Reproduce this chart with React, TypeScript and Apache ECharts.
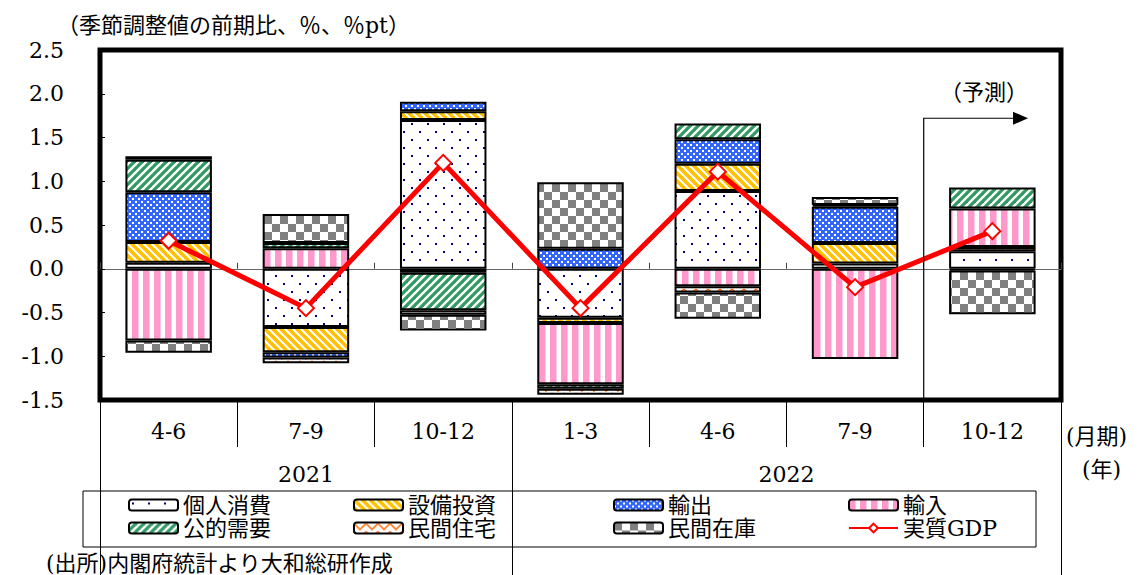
import React, { useEffect, useRef } from 'react';
import * as echarts from 'echarts';

const categories = ['4-6', '7-9', '10-12', '1-3', '4-6', '7-9', '10-12'];
const years = ['2021', '2022'];
const yearLabelPos = [1.5, 5];
const yearBounds = [0, 3, 7];

const consumption = [0.07, -0.665, 1.7, -0.56, 0.89, 0.06, 0.2];
const capex = [0.235, -0.29, 0.1, -0.06, 0.31, 0.235, 0.05];
const exportsV = [0.57, -0.06, 0.11, 0.23, 0.28, 0.415, -0.02];
const importsV = [-0.82, 0.235, -0.045, -0.7, -0.2, -1.03, 0.44];
const publicDemand = [0.37, 0.06, -0.43, -0.05, 0.18, 0.02, 0.24];
const housing = [0.04, -0.065, -0.05, -0.07, -0.07, null, null];
const inventory = [-0.14, 0.33, -0.18, 0.76, -0.3, 0.09, -0.5];
const realGDP = [0.32, -0.45, 1.21, -0.45, 1.11, -0.21, 0.43];

const FONT = "'DejaVu Serif', 'Noto Sans CJK JP', serif";

function makePattern(w: number, h: number, draw: (ctx: CanvasRenderingContext2D) => void) {
  const c = document.createElement('canvas');
  c.width = w;
  c.height = h;
  const ctx = c.getContext('2d')!;
  ctx.fillStyle = '#ffffff';
  ctx.fillRect(0, 0, w, h);
  draw(ctx);
  return { image: c, repeat: 'repeat', imageWidth: w, imageHeight: h } as any;
}

export default function App() {
  const ref = useRef<HTMLDivElement>(null);
  useEffect(() => {
    const chart = echarts.init(ref.current!, null, { renderer: 'svg' });

    const pDots = makePattern(16, 16, (ctx) => {
      ctx.fillStyle = '#000080';
      ctx.fillRect(3, 3, 2, 2);
      ctx.fillRect(11, 11, 2, 2);
    });
    const pYellow = makePattern(8, 8, (ctx) => {
      ctx.strokeStyle = '#FFC000';
      ctx.lineWidth = 3.6;
      for (const k of [-8, 0, 8]) {
        ctx.beginPath();
        ctx.moveTo(k - 1, -1);
        ctx.lineTo(k + 9, 9);
        ctx.stroke();
      }
    });
    const pGreen = makePattern(8, 8, (ctx) => {
      ctx.strokeStyle = '#2F9A62';
      ctx.lineWidth = 3.2;
      for (const k of [-8, 0, 8]) {
        ctx.beginPath();
        ctx.moveTo(k - 1, 9);
        ctx.lineTo(k + 9, -1);
        ctx.stroke();
      }
    });
    const pBlue = makePattern(6, 6, (ctx) => {
      ctx.fillStyle = '#3366FF';
      ctx.fillRect(0, 0, 6, 6);
      ctx.fillStyle = '#ffffff';
      ctx.fillRect(0, 0, 2, 2);
      ctx.fillRect(3, 3, 2, 2);
    });
    const pPink = makePattern(11, 4, (ctx) => {
      ctx.fillStyle = '#FF99CC';
      ctx.fillRect(0, 0, 6.5, 4);
    });
    const pGray = makePattern(16, 16, (ctx) => {
      ctx.fillStyle = '#808080';
      ctx.fillRect(0, 0, 8, 8);
      ctx.fillRect(8, 8, 8, 8);
    });
    const pOrange = makePattern(12, 8, (ctx) => {
      ctx.strokeStyle = '#FF6600';
      ctx.lineWidth = 1.5;
      ctx.beginPath();
      ctx.moveTo(0, 1);
      ctx.lineTo(6, 7);
      ctx.lineTo(12, 1);
      ctx.stroke();
    });

    const barSeries = (name: string, data: (number | null)[], pattern: any) => ({
      name,
      type: 'bar',
      stack: 'total',
      barWidth: '63%',
      data,
      xAxisIndex: 0,
      itemStyle: { color: pattern, borderColor: '#000', borderWidth: 2 },
    });

    const legendBase = {
      orient: 'vertical',
      top: 494,
      padding: 0,
      itemWidth: 49,
      itemHeight: 11,
      itemGap: 1,
      selectedMode: false,
      textStyle: { fontSize: 22, fontFamily: FONT, color: '#000', lineHeight: 22 },
    };

    chart.setOption({
      animation: false,
      backgroundColor: '#fff',
      textStyle: { fontFamily: FONT },
      grid: {
        left: 100,
        right: 81,
        top: 50,
        bottom: 175,
        show: true,
        borderColor: '#000',
        borderWidth: 5,
        backgroundColor: 'transparent',
      },
      legend: [
        { ...legendBase, left: 128, data: ['個人消費', '公的需要'] },
        { ...legendBase, left: 353, data: ['設備投資', '民間住宅'] },
        { ...legendBase, left: 613, data: ['輸出', '民間在庫'] },
        { ...legendBase, left: 848, data: ['輸入', '実質GDP'] },
      ],
      xAxis: [
        {
          type: 'category',
          data: categories,
          position: 'bottom',
          axisLine: { show: false, onZero: false },
          axisTick: { show: true, length: 47, interval: 0, lineStyle: { color: '#000', width: 1 } },
          axisLabel: { fontSize: 22, color: '#000', margin: 20, interval: 0, fontFamily: FONT },
          splitLine: { show: false },
        },
        {
          type: 'category',
          data: categories,
          position: 'bottom',
          axisLine: { show: true, onZero: true, lineStyle: { color: '#666', width: 1 } },
          axisTick: { show: true, inside: true, length: 6, interval: 0, lineStyle: { color: '#444', width: 1 } },
          axisLabel: { show: false },
          splitLine: { show: false },
        },
        {
          type: 'value',
          min: 0,
          max: 7,
          position: 'bottom',
          offset: 47,
          axisLine: { show: false, onZero: false },
          axisTick: { show: true, length: 130, customValues: yearBounds, lineStyle: { color: '#000', width: 1 } },
          axisLabel: {
            show: true,
            customValues: yearLabelPos,
            fontSize: 22,
            color: '#000',
            margin: 16,
            fontFamily: FONT,
            formatter: (v: number) => years[yearLabelPos.indexOf(v)] ?? '',
          },
          splitLine: { show: false },
        },
      ],
      yAxis: {
        type: 'value',
        min: -1.5,
        max: 2.5,
        interval: 0.5,
        axisLine: { show: false, onZero: false },
        axisTick: { show: true, inside: true, length: 5, lineStyle: { color: '#000' } },
        axisLabel: {
          fontSize: 22,
          color: '#000',
          margin: 36,
          fontFamily: FONT,
          formatter: (v: number) => v.toFixed(1),
        },
        splitLine: { show: false },
      },
      series: [
        barSeries('個人消費', consumption, pDots),
        barSeries('設備投資', capex, pYellow),
        barSeries('輸出', exportsV, pBlue),
        barSeries('輸入', importsV, pPink),
        barSeries('公的需要', publicDemand, pGreen),
        barSeries('民間住宅', housing, pOrange),
        barSeries('民間在庫', inventory, pGray),
        {
          name: '実質GDP',
          type: 'line',
          xAxisIndex: 0,
          data: realGDP,
          symbol: 'diamond',
          symbolSize: 16,
          z: 10,
          lineStyle: { color: '#FF0000', width: 5 },
          itemStyle: { color: '#fff', borderColor: '#FF0000', borderWidth: 2 },
        },
      ],
    });

    // forecast arrow positions from axes
    const xBound = chart.convertToPixel({ xAxisIndex: 2 }, 6) as number;
    const xTip = chart.convertToPixel({ xAxisIndex: 2 }, 6.76) as number;
    const yArrow = chart.convertToPixel({ yAxisIndex: 0 }, 1.72) as number;
    const yBottom = chart.convertToPixel({ yAxisIndex: 0 }, -1.5) as number;

    chart.setOption({
      graphic: [
        {
          type: 'text',
          left: 57,
          top: 14,
          style: { text: '（季節調整値の前期比、％、％pt）', font: `22px ${FONT}`, fill: '#000' },
        },
        {
          type: 'polyline',
          shape: { points: [[xBound, yBottom], [xBound, yArrow], [xTip - 14, yArrow]] },
          style: { stroke: '#000', lineWidth: 1.2, fill: null },
          z: 20,
        },
        {
          type: 'polygon',
          shape: { points: [[xTip - 15, yArrow - 6.5], [xTip, yArrow], [xTip - 15, yArrow + 6.5]] },
          style: { fill: '#000' },
          z: 20,
        },
        {
          type: 'text',
          x: (xBound + xTip) / 2 + 8,
          y: yArrow - 26,
          style: { text: '（予測）', font: `22px ${FONT}`, fill: '#000', align: 'center', verticalAlign: 'middle' },
        },
        {
          type: 'text',
          left: 1066,
          top: 425,
          style: { text: '(月期)', font: `22px ${FONT}`, fill: '#000' },
        },
        {
          type: 'text',
          left: 1082,
          top: 458,
          style: { text: '(年)', font: `22px ${FONT}`, fill: '#000' },
        },
        {
          type: 'rect',
          shape: { x: 83, y: 491, width: 953, height: 56 },
          style: { fill: null, stroke: '#000', lineWidth: 1 },
        },
        {
          type: 'text',
          left: 46,
          top: 552,
          style: { text: '(出所)内閣府統計より大和総研作成', font: `22px ${FONT}`, fill: '#000' },
        },
      ],
    });

    return () => chart.dispose();
  }, []);
  return (
    <div
      ref={ref}
      style={{ position: 'absolute', left: 0, top: 0, width: 1142, height: 575, background: '#fff' }}
    />
  );
}
